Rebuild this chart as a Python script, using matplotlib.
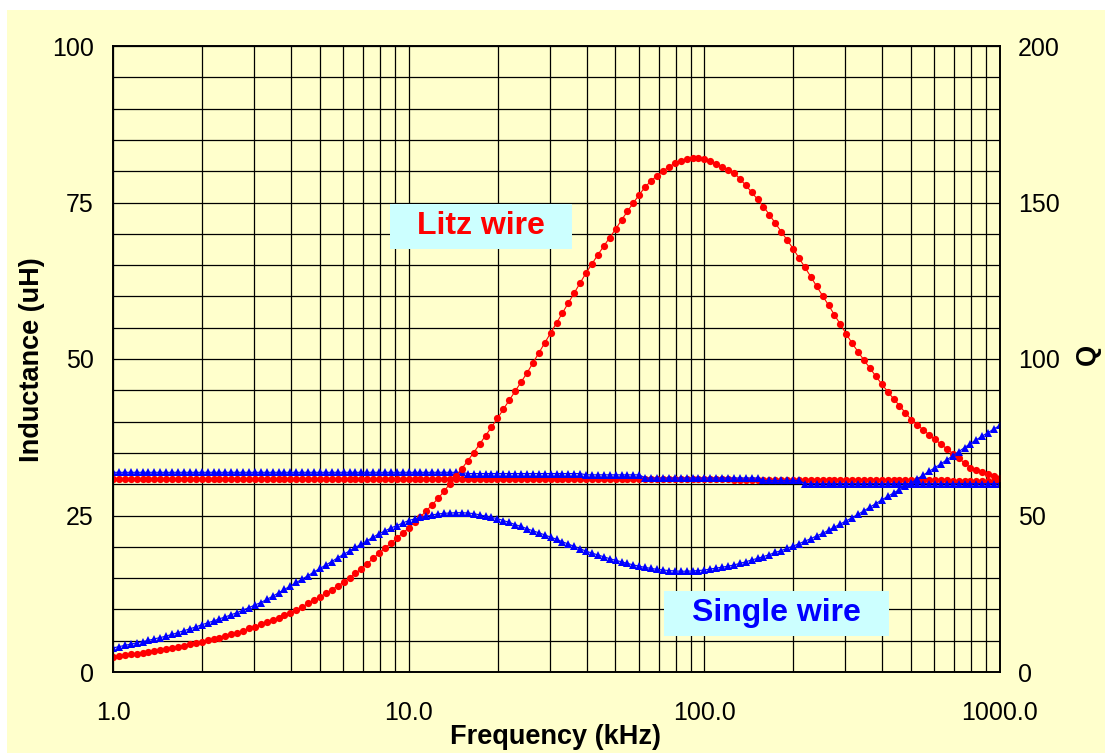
import numpy as np
import matplotlib
matplotlib.use('Agg')
import matplotlib.pyplot as plt
from matplotlib.patches import Rectangle
from matplotlib.ticker import FixedLocator, LogLocator, NullFormatter, MultipleLocator

plt.rcParams['font.family'] = ['Liberation Sans', 'DejaVu Sans']

# frequency sweep, kHz (50 points per decade, 1 kHz .. 1 MHz)
freq = np.logspace(0, 3, 151)

# inductance (uH), left axis
litz_L = [30.8] * 100 + [
    30.8, 30.8, 30.8, 30.8, 30.8, 30.7, 30.7, 30.7, 30.7, 30.7,
    30.7, 30.7, 30.7, 30.7, 30.7, 30.7, 30.7, 30.7, 30.7, 30.7,
    30.7, 30.7, 30.7, 30.6, 30.6, 30.6, 30.6, 30.6, 30.6, 30.6,
    30.6, 30.6, 30.6, 30.6, 30.6, 30.6, 30.6, 30.6, 30.6, 30.6,
    30.6, 30.6, 30.5, 30.5, 30.5, 30.5, 30.5, 30.5, 30.5, 30.5, 30.5]
single_L = [31.9] * 60 + [31.7] * 20 + [31.5] * 10 + [31.0] * 20 + [30.6] * 7 + [30.1] * 34

# quality factor, right axis
litz_Q = [
    4.9, 5.1, 5.4, 5.6, 5.9, 6.2, 6.5, 6.8, 7.1, 7.4,
    7.7, 8.1, 8.4, 8.8, 9.2, 9.6, 10.1, 10.5, 11.0, 11.5,
    12.0, 12.6, 13.2, 13.9, 14.5, 15.2, 15.9, 16.6, 17.4, 18.2,
    19.0, 19.9, 20.8, 21.9, 22.9, 24.0, 25.1, 26.3, 27.5, 28.7,
    30.0, 31.5, 33.0, 34.6, 36.3, 38.0, 39.6, 41.2, 42.8, 44.4,
    46.0, 47.8, 49.6, 51.5, 53.5, 55.5, 57.8, 60.2, 62.6, 65.0,
    67.5, 70.1, 72.8, 75.5, 78.2, 81.0, 83.9, 86.8, 89.7, 92.6,
    95.5, 98.7, 101.9, 105.1, 108.3, 111.5, 114.7, 117.9, 121.1, 124.3,
    127.5, 130.4, 133.3, 136.1, 138.8, 141.5, 144.4, 147.2, 149.9, 152.5,
    155.0, 156.9, 158.6, 160.0, 161.4, 162.5, 163.3, 163.9, 164.2, 164.2,
    163.8, 163.2, 162.4, 161.5, 160.5, 159.5, 157.6, 155.5, 153.3, 151.0,
    148.7, 146.1, 143.4, 140.7, 138.0, 135.3, 132.3, 129.3, 126.3, 123.2,
    120.2, 117.2, 114.1, 111.1, 108.0, 105.0, 102.3, 99.6, 97.1, 94.5,
    92.0, 89.6, 87.3, 85.1, 82.8, 80.6, 79.0, 77.4, 75.8, 74.3,
    72.8, 71.3, 69.8, 68.3, 66.8, 65.3, 64.5, 63.8, 63.1, 62.5,
    62.0]
single_Q = [
    7.7, 8.1, 8.5, 8.9, 9.3, 9.7, 10.1, 10.6, 11.0, 11.5,
    12.0, 12.6, 13.2, 13.8, 14.4, 15.1, 15.7, 16.3, 17.0, 17.6,
    18.3, 19.0, 19.8, 20.6, 21.4, 22.2, 23.2, 24.2, 25.3, 26.4,
    27.5, 28.6, 29.7, 30.8, 32.0, 33.1, 34.2, 35.3, 36.5, 37.6,
    38.7, 39.8, 40.9, 42.0, 43.1, 44.2, 45.1, 46.0, 46.8, 47.6,
    48.4, 48.9, 49.4, 49.8, 50.2, 50.5, 50.7, 50.8, 50.9, 50.9,
    50.8, 50.6, 50.2, 49.8, 49.4, 49.0, 48.4, 47.8, 47.1, 46.5,
    45.8, 45.1, 44.5, 43.8, 43.1, 42.4, 41.6, 40.9, 40.1, 39.4,
    38.6, 38.0, 37.4, 36.8, 36.2, 35.7, 35.2, 34.7, 34.2, 33.8,
    33.4, 33.1, 32.8, 32.6, 32.4, 32.3, 32.2, 32.2, 32.3, 32.4,
    32.6, 32.9, 33.2, 33.5, 33.8, 34.2, 34.7, 35.2, 35.8, 36.3,
    36.9, 37.5, 38.2, 38.8, 39.5, 40.2, 41.0, 41.8, 42.6, 43.5,
    44.3, 45.3, 46.3, 47.3, 48.3, 49.3, 50.4, 51.5, 52.7, 53.8,
    55.0, 56.1, 57.2, 58.3, 59.4, 60.5, 61.7, 62.9, 64.1, 65.3,
    66.5, 67.8, 69.1, 70.4, 71.7, 73.0, 74.2, 75.4, 76.5, 77.7,
    78.8]

x_ticks = [1, 10, 100, 1000]
x_labels = ['1.0', '10.0', '100.0', '1000.0']

bg = '#FFFFCC'
W, H = 1105, 753

fig = plt.figure(figsize=(W / 100, H / 100), dpi=100)
fig.patch.set_facecolor('white')
fig.patches.append(Rectangle((7 / W, 0), 1, 1 - 10 / H, transform=fig.transFigure,
                             facecolor=bg, edgecolor='none', zorder=-10))

ax = fig.add_axes([113 / W, 1 - 672 / H, 887 / W, 626 / H])
ax.set_facecolor(bg)
ax.set_xscale('log')
ax.set_xlim(1, 1000)
ax.set_ylim(0, 100)
ax.xaxis.set_major_locator(FixedLocator(x_ticks))
ax.set_xticklabels(x_labels)
ax.xaxis.set_minor_locator(LogLocator(base=10, subs=range(2, 10)))
ax.xaxis.set_minor_formatter(NullFormatter())
ax.yaxis.set_major_locator(MultipleLocator(25))
ax.yaxis.set_minor_locator(MultipleLocator(5))
ax.grid(which='both', color='black', lw=0.9)
ax.set_axisbelow(True)
ax.tick_params(which='both', length=0, labelsize=18)
ax.tick_params(axis='y', pad=14)
ax.tick_params(axis='x', pad=21)

ax.plot(freq, litz_L, color='#FF0000', marker='o', ms=5.2, mew=0, lw=0.8)
ax.plot(freq, single_L, color='#0000FF', marker='^', ms=6.4, mew=0, lw=0.8)

ax2 = ax.twinx()
ax2.set_ylim(0, 200)
ax2.yaxis.set_major_locator(MultipleLocator(50))
ax2.tick_params(length=0, labelsize=18, pad=13)
ax2.plot(freq, litz_Q, color='#FF0000', marker='o', ms=5.2, mew=0, lw=0.8)
ax2.plot(freq, single_Q, color='#0000FF', marker='^', ms=6.4, mew=0, lw=0.8)

for a in (ax, ax2):
    for s in a.spines.values():
        s.set_color('black')
        s.set_linewidth(1.2)

ax.set_xlabel('Frequency (kHz)', fontsize=19.5, fontweight='bold', va='center')
ax.xaxis.set_label_coords((555 - 113) / 887, (672 - 737) / 626)
ax.set_ylabel('Inductance (uH)', fontsize=19.5, fontweight='bold', va='center')
ax.yaxis.set_label_coords((32 - 113) / 887, (672 - 360) / 626)
ax2.set_ylabel('Q', fontsize=19.5, fontweight='bold', va='center', rotation=90)
ax2.yaxis.set_label_coords((1088 - 113) / 887, (672 - 354) / 626)

# label boxes (pixel positions of the reference)
for (x0, y0, x1, y1), txt, col in [((390, 204, 572, 249), 'Litz wire', '#FF0000'),
                                   ((664, 591, 889, 636), 'Single wire', '#0000FF')]:
    fig.patches.append(Rectangle((x0 / W, 1 - y1 / H), (x1 - x0) / W, (y1 - y0) / H,
                                 transform=fig.transFigure, facecolor='#CCFFFF',
                                 edgecolor='none', zorder=5))
    fig.text((x0 + x1) / 2 / W, 1 - (y0 + y1) / 2 / H, txt, color=col, fontsize=23,
             fontweight='bold', ha='center', va='center', zorder=6)

fig.savefig('out.png', dpi=100)
